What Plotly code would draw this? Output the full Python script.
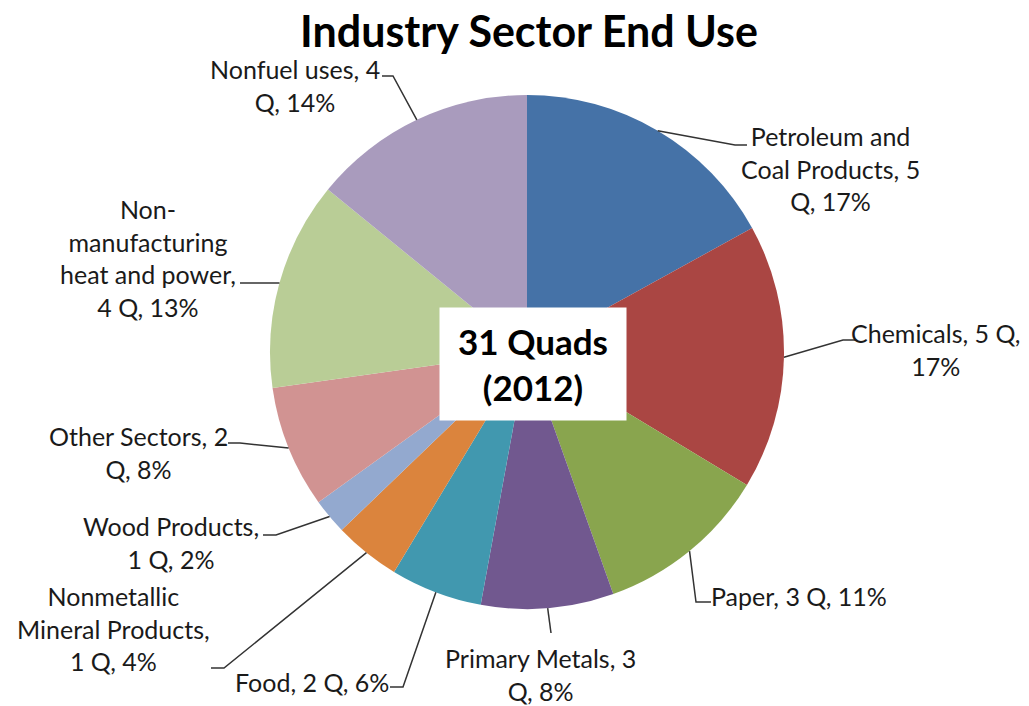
import math
import plotly.graph_objects as go

# %% data (quads, 2012)
sectors = ["Petroleum and Coal Products", "Chemicals", "Paper", "Primary Metals", "Food",
           "Nonmetallic Mineral Products", "Wood Products", "Other Sectors",
           "Non-manufacturing heat and power", "Nonfuel uses"]
quads = [5.3, 5.2, 3.4, 2.6, 1.8, 1.3, 0.7, 2.4, 4.1, 4.4]
label_text = [
    "Petroleum and<br>Coal Products, 5<br>Q, 17%",
    "Chemicals, 5 Q,<br>17%",
    "Paper, 3 Q, 11%",
    "Primary Metals, 3<br>Q, 8%",
    "Food, 2 Q, 6%",
    "Nonmetallic<br>Mineral Products,<br>1 Q, 4%",
    "Wood Products,<br>1 Q, 2%",
    "Other Sectors, 2<br>Q, 8%",
    "Non-<br>manufacturing<br>heat and power,<br>4 Q, 13%",
    "Nonfuel uses, 4<br>Q, 14%",
]
colors = ["#4572A7", "#AA4643", "#89A54E", "#71588F", "#4198AF",
          "#DB843D", "#93A9CF", "#D19392", "#B9CD96", "#A99BBD"]

# %% layout in window pixels (page body has an 8px margin)
OFF = 8
W, H = 1029 - OFF, 706 - OFF
cx, cy, R = 527, 352, 257
px_x = lambda x: (x - OFF) / W
px_y = lambda y: 1 - (y - OFF) / H

# label block centre, then leader line points (elbow, end) near the text
label_pos = [(830, 168), (936, 349), (799, 596), (540, 674), (312, 682),
             (113, 628), (171, 542), (138, 453), (148, 258), (295, 85)]
leader_pts = [
    [(735, 145), (747, 145)],
    [(843, 340), (855, 340)],
    [(696, 602), (711, 602)],
    [(551, 633)],
    [(403, 687), (390, 687)],
    [(224, 668), (211, 668)],
    [(276, 535), (263, 535)],
    [(240, 443), (228, 443)],
    [(240, 283)],
    [(393, 76), (382, 76)],
]

FONT = "Lato, Calibri, sans-serif"

fig = go.Figure(go.Pie(
    labels=sectors, values=quads, sort=False, direction="clockwise", rotation=0,
    marker=dict(colors=colors, line=dict(width=0)),
    textinfo="none", hoverinfo="label+value+percent",
    domain=dict(x=[px_x(cx - R), px_x(cx + R)], y=[px_y(cy + R), px_y(cy - R)]),
))

total = sum(quads)
cum = 0
shapes = []
annotations = []
for i, v in enumerate(quads):
    mid = (cum + v / 2) / total * 2 * math.pi
    cum += v
    ex, ey = cx + R * math.sin(mid), cy - R * math.cos(mid)
    pts = [(ex, ey)] + leader_pts[i]
    path = "M " + " L ".join(f"{px_x(x):.5f},{px_y(y):.5f}" for x, y in pts)
    shapes.append(dict(type="path", xref="paper", yref="paper", path=path,
                       line=dict(color="#333333", width=1.5)))
    lx, ly = label_pos[i]
    annotations.append(dict(x=px_x(lx), y=px_y(ly), xref="paper", yref="paper",
                            text=label_text[i], showarrow=False, align="center",
                            xanchor="center", yanchor="middle",
                            font=dict(family=FONT, size=25, color="#1a1a1a")))

# centre box
annotations.append(dict(x=px_x(533), y=px_y(364), xref="paper", yref="paper",
                        text="<b>31 Quads<br>(2012)</b>", showarrow=False,
                        width=186, height=112, bgcolor="white", borderpad=0,
                        font=dict(family=FONT, size=35, color="black")))

fig.update_layout(
    width=W, height=H, margin=dict(l=0, r=0, t=0, b=0),
    paper_bgcolor="white", showlegend=False,
    title=dict(text="<b>Industry Sector End Use</b>", x=px_x(529), xanchor="center",
               y=px_y(32), yanchor="middle",
               font=dict(family=FONT, size=43, color="black")),
    shapes=shapes, annotations=annotations,
)

fig.write_html("out.html")
